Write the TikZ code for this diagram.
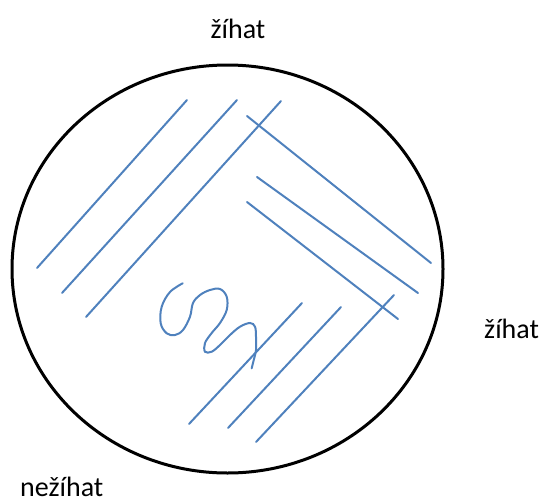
\documentclass[tikz,border=0pt]{standalone}
\usepackage{fontspec}
\setmainfont{Carlito}
\usetikzlibrary{positioning}
\definecolor{streak}{RGB}{79,129,189}

\begin{document}
\begin{tikzpicture}[x=1pt, y=-1pt,
    streakline/.style={streak, line width=2pt, line cap=round},
    lbl/.style={font=\fontsize{28}{33}\selectfont, inner sep=0pt}]
    \useasboundingbox (0,0) rectangle (545,503);
    % the dish
    \draw[line width=3pt] (227.5,269) ellipse [x radius=215.5, y radius=204];
    % labels round the dish
    \node[lbl, anchor=base] (topmark) at (238,38) {žíhat};
    \node[lbl, anchor=base west] (rightmark) at (484,338) {žíhat};
    \node[lbl, anchor=base west] (bottommark) at (20,496) {nežíhat};
    % first streaks, upper left
    \draw[streakline] (37,268) -- (187,100);
    \draw[streakline] (62,293) -- (237,100);
    \draw[streakline] (86,317) -- (281,101);
    % second streaks, running down to the right
    \draw[streakline] (247,116) -- (431,263);
    \draw[streakline] (257,177) -- (418,293);
    \draw[streakline] (247,202) -- (398,319);
    % third streaks, lower right
    \draw[streakline] (189,424) -- (302,303);
    \draw[streakline] (228,428) -- (341,307);
    \draw[streakline] (256,442) -- (394,295);
    % the last wavy streak
    \draw[streakline] plot[smooth, tension=0.6] coordinates {
      (182.7,283.3) (170,292) (161.7,306.7) (160.7,323.3) (166.7,333.3)
      (175,335) (183,330) (190,316.7) (193,303) (200,295) (210,290)
      (220,289) (226.7,296.7) (226.7,310) (220,323) (211.7,333)
      (205,343) (205,351.7) (211.7,351.7) (220,345) (230,335)
      (240,326.7) (250,323) (255,326.7) (256,336.7) (256,350)
      (253.3,361.7) (251.7,368.3)};
\end{tikzpicture}
\end{document}
